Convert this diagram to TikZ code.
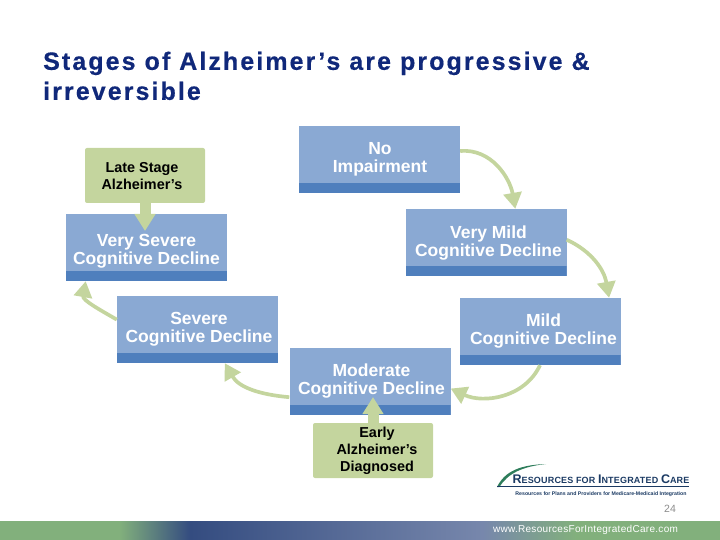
\documentclass[tikz,border=0pt]{standalone}
\usepackage{fontspec}
\setmainfont{Liberation Sans}
\newfontfamily\titlefont[LetterSpace=8.3,BoldFeatures={FakeBold=0.4}]{Liberation Sans}
\newfontfamily\logofont[LetterSpace=2]{Liberation Sans}
\newfontfamily\footfont[LetterSpace=3]{Liberation Sans}
\usetikzlibrary{arrows.meta}

\definecolor{stageblue}{HTML}{8AA9D3}
\definecolor{bandblue}{HTML}{4F7FBD}
\definecolor{leafgreen}{HTML}{C4D59E}
\definecolor{titlenavy}{HTML}{10287A}
\definecolor{logonavy}{HTML}{1B3A63}
\definecolor{logogreen}{HTML}{2E7D5B}
\definecolor{barA}{HTML}{82B07C}
\definecolor{barB}{HTML}{344C80}
\definecolor{barC}{HTML}{7787AC}
\pgfdeclarehorizontalshading{footbar}{100bp}{%
  color(0bp)=(barA);color(33.3bp)=(barA);color(38.2bp)=(barB);%
  color(58.5bp)=(barC);color(65bp)=(barA);color(100bp)=(barA)}

\begin{document}
\begin{tikzpicture}
[x=1pt,y=-1pt,-,%
  stagebox/.style={shape=rectangle,fill=stageblue,inner sep=0pt,
    minimum width=161pt,minimum height=67pt,
    path picture={\fill[bandblue] (path picture bounding box.south west)
      rectangle ([yshift=10pt]path picture bounding box.south east);}},
  stagetext/.style={text=white,inner sep=0pt,align=center,
    font=\fontsize{17.5}{18}\selectfont\bfseries},
  notebox/.style={shape=rectangle,rounded corners=2pt,fill=leafgreen,
    inner sep=0pt,minimum width=120pt,minimum height=55pt},
  notetext/.style={text=black,inner sep=0pt,align=center,
    font=\fontsize{14.4}{17}\selectfont\bfseries},
  cyclearrow/.style={draw=leafgreen,line width=3.7pt,-{Triangle[length=16pt,width=18pt]}},
  notearrow/.style={draw=leafgreen,line width=11pt,-{Triangle[length=17pt,width=20pt]}}]
\useasboundingbox (0,0) rectangle (720,540);

\node[anchor=north west,inner sep=0pt,align=left,text=titlenavy,
  font=\fontsize{25}{30}\titlefont\bfseries] (title) at (43,51.5)
  {Stages of Alzheimer’s are progressive \&\\irreversible};

\node[stagebox] (noimp) at (379.5,159.5) {};
\node[stagebox] (verymild) at (486,242.5) {};
\node[stagebox] (mild) at (540,331.5) {};
\node[stagebox] (moderate) at (370,381.5) {};
\node[stagebox] (severe) at (197.5,329.5) {};
\node[stagebox] (verysevere) at (146.5,247.5) {};

\node[notebox] (late) at (145,175.5) {};
\node[notebox] (early) at (373,450.5) {};

\coordinate (latetip) at (145,231);
\coordinate (earlytip) at (373,397);

\draw[cyclearrow] (noimp.6.7) to[out=5,in=100] (verymild.49);
\draw[cyclearrow] (verymild.2.5) to[out=-25,in=100] (mild.26.6);
\draw[cyclearrow] (mild.south) to[out=-115,in=-25] (moderate.355);
\draw[cyclearrow] (moderate.191.5) to[out=175,in=-60] (severe.309);
\draw[cyclearrow] (severe.173.3) to[out=150,in=-100] (verysevere.209.4);
\draw[notearrow] (late.south) -- (latetip);
\draw[notearrow] (early.north) -- (earlytip);

\node[stagetext] (noimptext) at (380,159.5) {No\\Impairment};
\node[stagetext] (verymildtext) at (488.5,243.5) {Very Mild\\Cognitive Decline};
\node[stagetext] (mildtext) at (543.5,331.5) {Mild\\Cognitive Decline};
\node[stagetext] (moderatetext) at (371.5,381.5) {Moderate\\Cognitive Decline};
\node[stagetext] (severetext) at (199,329.5) {Severe\\Cognitive Decline};
\node[stagetext] (verysevtext) at (146.5,251.5) {Very Severe\\Cognitive Decline};
\node[notetext] (latetext) at (142,176.5) {Late Stage\\Alzheimer’s};
\node[notetext] (earlytext) at (377,450.5) {Early\\Alzheimer’s\\Diagnosed};

\fill[logogreen] (497,487) .. controls (505,471) and (520,465) .. (546,464)
  .. controls (523,466.5) and (508,473) .. (499.5,487) -- cycle;
\fill[logonavy] (497,486.3) rectangle (689,487.3);
\node[text=logonavy,inner sep=0pt,font=\logofont\bfseries] (logoname) at (601,479.5)
  {\fontsize{12.5}{12}\selectfont R\fontsize{9}{12}\selectfont ESOURCES FOR
   \fontsize{12.5}{12}\selectfont I\fontsize{9}{12}\selectfont NTEGRATED
   \fontsize{12.5}{12}\selectfont C\fontsize{9}{12}\selectfont ARE};
\node[text=logonavy,inner sep=0pt,font=\fontsize{5.2}{6}\selectfont\bfseries] (logotag) at (601,494)
  {Resources for Plans and Providers for Medicare-Medicaid Integration};
\node[text=black!45,inner sep=0pt,font=\fontsize{10.5}{12}\selectfont] (pagenum) at (670,509) {24};

\shade[shading=footbar] (0,521) rectangle (720,540);
\node[text=white,inner sep=0pt,font=\fontsize{10}{12}\footfont] (footurl) at (585.5,530)
  {www.ResourcesForIntegratedCare.com};
\end{tikzpicture}
\end{document}
